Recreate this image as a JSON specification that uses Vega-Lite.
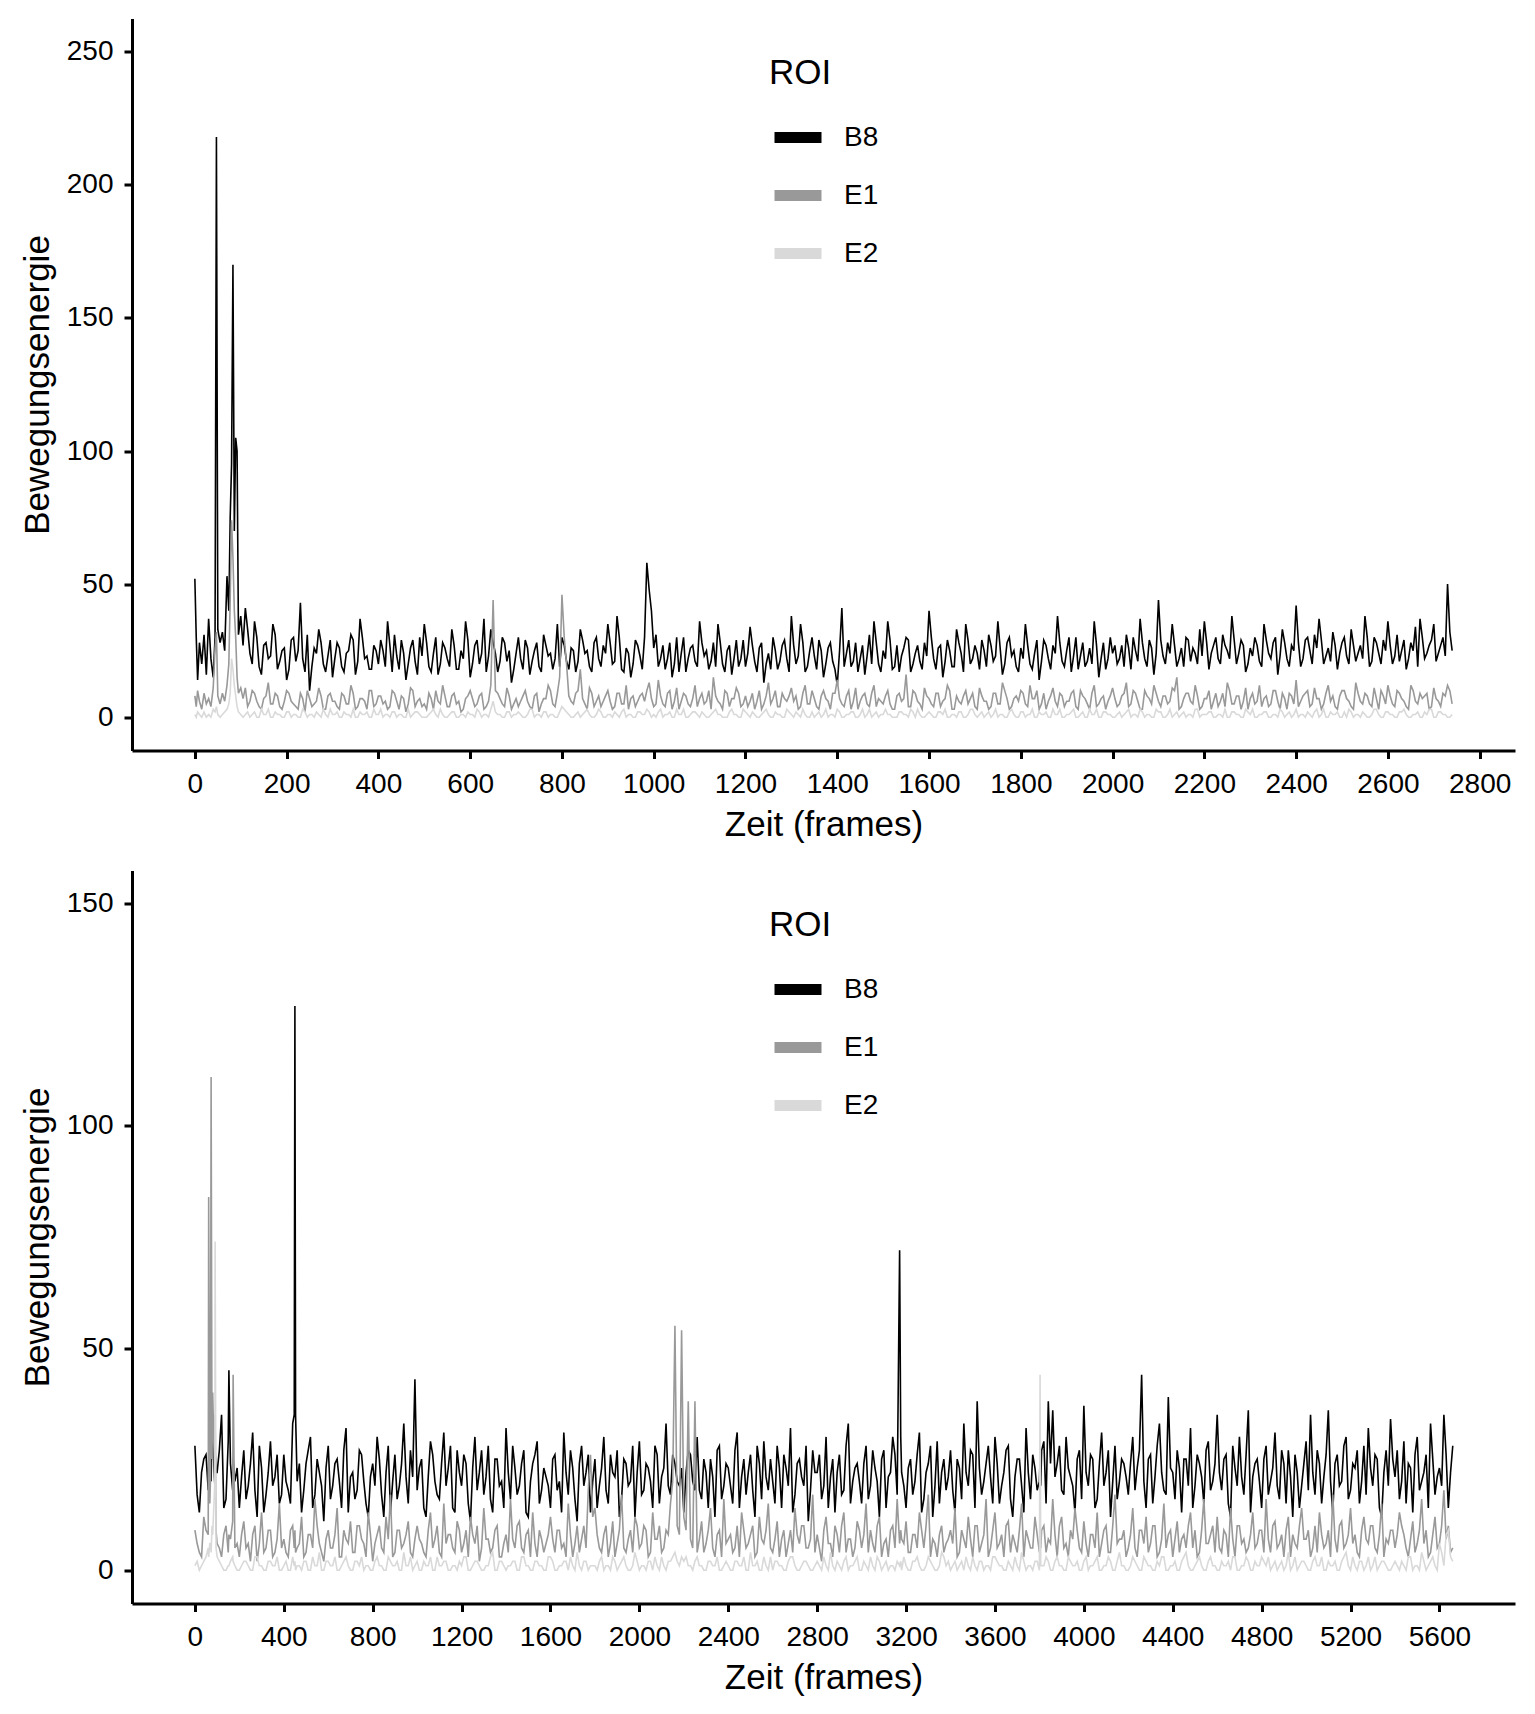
{
  "$schema": "https://vega.github.io/schema/vega-lite/v6.json",
  "padding": {"left": 20, "top": 18.5, "right": 15, "bottom": 0},
  "spacing": 28,
  "resolve": {"scale": {"color": "independent"}, "legend": {"color": "independent"}},
  "config": {
    "font": "Liberation Sans",
    "view": {"stroke": null},
    "axis": {"grid": false, "domainColor": "#000", "domainWidth": 3, "tickColor": "#000", "tickWidth": 3, "tickSize": 8, "labelColor": "#000", "labelFontSize": 28, "titleColor": "#000", "titleFontSize": 35, "titleFontWeight": "normal", "labelOverlap": false, "labelFlush": false},
    "axisX": {"labelPadding": 12, "titlePadding": 9},
    "axisY": {"labelPadding": 11, "titlePadding": 11},
    "legend": {"orient": "none", "legendX": 637, "legendY": 37, "padding": 0, "titleFontSize": 35, "titleFontWeight": "normal", "titleColor": "#000", "labelFontSize": 28, "labelColor": "#000", "symbolType": "stroke", "symbolStrokeWidth": 11, "symbolSize": 2209, "rowPadding": 7, "labelOffset": 17, "titlePadding": 18}
  },
  "datasets": {
    "top": [
      {"t":0,"B8":52,"E1":8,"E2":1},{"t":3,"B8":30,"E1":4,"E2":0},{"t":6,"B8":14,"E1":10,"E2":2},{"t":10,"B8":28,"E1":6,"E2":1},
      {"t":15,"B8":20,"E1":3,"E2":0},{"t":20,"B8":31,"E1":9,"E2":2},{"t":25,"B8":16,"E1":5,"E2":0},{"t":30,"B8":37,"E1":7,"E2":1},
      {"t":35,"B8":22,"E1":4,"E2":0},{"t":40,"B8":15,"E1":11,"E2":3},{"t":44,"B8":30,"E1":26,"E2":2},{"t":47,"B8":218,"E1":32,"E2":4},
      {"t":50,"B8":33,"E1":8,"E2":1},{"t":55,"B8":28,"E1":5,"E2":0},{"t":60,"B8":32,"E1":9,"E2":1},{"t":65,"B8":25,"E1":6,"E2":2},
      {"t":70,"B8":53,"E1":12,"E2":3},{"t":74,"B8":40,"E1":20,"E2":5},{"t":77,"B8":75,"E1":44,"E2":9},{"t":80,"B8":95,"E1":74,"E2":22},
      {"t":83,"B8":170,"E1":60,"E2":18},{"t":86,"B8":70,"E1":40,"E2":12},{"t":89,"B8":105,"E1":30,"E2":8},{"t":92,"B8":100,"E1":15,"E2":4},
      {"t":95,"B8":31,"E1":9,"E2":2},{"t":100,"B8":38,"E1":11,"E2":1},
      {"t":110,"B8":41,"E1":11,"E2":1},{"t":120,"B8":24,"E1":6,"E2":0},{"t":130,"B8":36,"E1":9,"E2":2},{"t":140,"B8":19,"E1":4,"E2":0},{"t":150,"B8":27,"E1":7,"E2":1},
      {"t":160,"B8":22,"E1":13,"E2":3},{"t":170,"B8":35,"E1":5,"E2":0},{"t":180,"B8":18,"E1":8,"E2":1},{"t":190,"B8":25,"E1":3,"E2":0},{"t":200,"B8":14,"E1":10,"E2":2},
      {"t":210,"B8":29,"E1":6,"E2":0},{"t":220,"B8":21,"E1":4,"E2":1},{"t":230,"B8":43,"E1":9,"E2":0},{"t":240,"B8":17,"E1":2,"E2":2},{"t":250,"B8":10,"E1":7,"E2":1},
      {"t":260,"B8":26,"E1":5,"E2":0},{"t":270,"B8":33,"E1":11,"E2":1},{"t":280,"B8":20,"E1":3,"E2":3},{"t":290,"B8":23,"E1":8,"E2":0},{"t":300,"B8":15,"E1":6,"E2":1},
      {"t":310,"B8":28,"E1":4,"E2":2},{"t":320,"B8":19,"E1":9,"E2":0},{"t":330,"B8":24,"E1":5,"E2":1},{"t":340,"B8":31,"E1":12,"E2":0},{"t":350,"B8":16,"E1":3,"E2":0},
      {"t":360,"B8":37,"E1":7,"E2":2},{"t":370,"B8":22,"E1":6,"E2":1},{"t":380,"B8":18,"E1":10,"E2":0},{"t":390,"B8":27,"E1":4,"E2":3},{"t":400,"B8":20,"E1":8,"E2":1},
      {"t":410,"B8":25,"E1":5,"E2":0},{"t":420,"B8":36,"E1":3,"E2":1},{"t":430,"B8":17,"E1":10,"E2":2},{"t":440,"B8":23,"E1":6,"E2":0},{"t":450,"B8":29,"E1":8,"E2":1},
      {"t":460,"B8":14,"E1":2,"E2":0},{"t":470,"B8":26,"E1":11,"E2":0},{"t":480,"B8":21,"E1":4,"E2":2},{"t":490,"B8":30,"E1":7,"E2":1},{"t":500,"B8":35,"E1":5,"E2":0},
      {"t":510,"B8":19,"E1":9,"E2":1},{"t":520,"B8":24,"E1":3,"E2":3},{"t":530,"B8":16,"E1":6,"E2":0},{"t":540,"B8":28,"E1":12,"E2":1},{"t":550,"B8":22,"E1":4,"E2":0},
      {"t":560,"B8":33,"E1":8,"E2":2},{"t":570,"B8":18,"E1":5,"E2":0},{"t":580,"B8":25,"E1":2,"E2":1},{"t":590,"B8":36,"E1":7,"E2":0},{"t":600,"B8":15,"E1":10,"E2":1},
      {"t":610,"B8":27,"E1":4,"E2":0},{"t":620,"B8":20,"E1":8,"E2":2},{"t":630,"B8":37,"E1":3,"E2":1},{"t":640,"B8":23,"E1":6,"E2":0},{"t":650,"B8":28,"E1":44,"E2":6},
      {"t":660,"B8":17,"E1":9,"E2":1},{"t":670,"B8":30,"E1":5,"E2":0},{"t":680,"B8":21,"E1":11,"E2":2},{"t":690,"B8":13,"E1":3,"E2":0},{"t":700,"B8":24,"E1":7,"E2":1},
      {"t":710,"B8":22,"E1":6,"E2":1},{"t":720,"B8":29,"E1":10,"E2":0},{"t":730,"B8":16,"E1":4,"E2":3},{"t":740,"B8":25,"E1":8,"E2":0},{"t":750,"B8":19,"E1":2,"E2":1},
      {"t":760,"B8":31,"E1":7,"E2":2},{"t":770,"B8":23,"E1":12,"E2":0},{"t":780,"B8":18,"E1":5,"E2":1},{"t":790,"B8":35,"E1":9,"E2":0},{"t":800,"B8":30,"E1":46,"E2":4},
      {"t":810,"B8":21,"E1":20,"E2":2},{"t":820,"B8":26,"E1":6,"E2":0},{"t":830,"B8":17,"E1":9,"E2":1},{"t":840,"B8":33,"E1":18,"E2":0},{"t":850,"B8":24,"E1":5,"E2":2},
      {"t":860,"B8":19,"E1":11,"E2":1},{"t":870,"B8":28,"E1":4,"E2":0},{"t":880,"B8":22,"E1":8,"E2":3},{"t":890,"B8":27,"E1":6,"E2":0},{"t":900,"B8":35,"E1":10,"E2":1},
      {"t":910,"B8":20,"E1":3,"E2":0},{"t":920,"B8":38,"E1":9,"E2":1},{"t":930,"B8":18,"E1":5,"E2":2},{"t":940,"B8":26,"E1":12,"E2":0},{"t":950,"B8":15,"E1":7,"E2":1},
      {"t":960,"B8":29,"E1":4,"E2":0},{"t":970,"B8":23,"E1":8,"E2":2},{"t":980,"B8":30,"E1":6,"E2":1},{"t":985,"B8":58,"E1":10,"E2":3},{"t":990,"B8":48,"E1":13,"E2":2},
      {"t":995,"B8":40,"E1":7,"E2":0},{"t":1000,"B8":26,"E1":4,"E2":1},
      {"t":1010,"B8":19,"E1":14,"E2":2},{"t":1020,"B8":27,"E1":5,"E2":0},{"t":1030,"B8":22,"E1":9,"E2":1},{"t":1040,"B8":15,"E1":3,"E2":0},{"t":1050,"B8":30,"E1":11,"E2":3},
      {"t":1060,"B8":24,"E1":6,"E2":1},{"t":1070,"B8":17,"E1":8,"E2":0},{"t":1080,"B8":26,"E1":4,"E2":1},{"t":1090,"B8":21,"E1":12,"E2":2},{"t":1100,"B8":36,"E1":7,"E2":0},
      {"t":1110,"B8":23,"E1":5,"E2":1},{"t":1120,"B8":18,"E1":10,"E2":0},{"t":1130,"B8":28,"E1":15,"E2":2},{"t":1140,"B8":35,"E1":6,"E2":1},{"t":1150,"B8":20,"E1":3,"E2":0},
      {"t":1160,"B8":25,"E1":9,"E2":0},{"t":1170,"B8":16,"E1":7,"E2":3},{"t":1180,"B8":29,"E1":11,"E2":1},{"t":1190,"B8":22,"E1":4,"E2":0},{"t":1200,"B8":19,"E1":8,"E2":2},
      {"t":1210,"B8":34,"E1":6,"E2":0},{"t":1220,"B8":21,"E1":3,"E2":1},{"t":1230,"B8":26,"E1":10,"E2":0},{"t":1240,"B8":13,"E1":5,"E2":2},{"t":1250,"B8":24,"E1":13,"E2":1},
      {"t":1260,"B8":30,"E1":7,"E2":0},{"t":1270,"B8":18,"E1":4,"E2":1},{"t":1280,"B8":27,"E1":9,"E2":0},{"t":1290,"B8":22,"E1":6,"E2":3},{"t":1300,"B8":38,"E1":11,"E2":1},
      {"t":1310,"B8":20,"E1":8,"E2":2},{"t":1320,"B8":35,"E1":4,"E2":0},{"t":1330,"B8":17,"E1":12,"E2":1},{"t":1340,"B8":25,"E1":5,"E2":0},{"t":1350,"B8":23,"E1":7,"E2":0},
      {"t":1360,"B8":29,"E1":3,"E2":2},{"t":1370,"B8":15,"E1":10,"E2":1},{"t":1380,"B8":26,"E1":6,"E2":0},{"t":1390,"B8":21,"E1":9,"E2":1},{"t":1400,"B8":12,"E1":14,"E2":3},
      {"t":1410,"B8":41,"E1":5,"E2":0},{"t":1420,"B8":24,"E1":8,"E2":1},{"t":1430,"B8":19,"E1":3,"E2":2},{"t":1440,"B8":28,"E1":11,"E2":0},{"t":1450,"B8":22,"E1":6,"E2":1},
      {"t":1460,"B8":16,"E1":9,"E2":0},{"t":1470,"B8":31,"E1":4,"E2":3},{"t":1480,"B8":36,"E1":12,"E2":1},{"t":1490,"B8":20,"E1":7,"E2":0},{"t":1500,"B8":25,"E1":5,"E2":1},
      {"t":1510,"B8":36,"E1":10,"E2":1},{"t":1520,"B8":18,"E1":3,"E2":0},{"t":1530,"B8":27,"E1":8,"E2":0},{"t":1540,"B8":23,"E1":6,"E2":2},{"t":1550,"B8":30,"E1":16,"E2":1},
      {"t":1560,"B8":17,"E1":4,"E2":3},{"t":1570,"B8":24,"E1":9,"E2":0},{"t":1580,"B8":21,"E1":5,"E2":1},{"t":1590,"B8":28,"E1":11,"E2":0},{"t":1600,"B8":40,"E1":7,"E2":2},
      {"t":1610,"B8":22,"E1":4,"E2":0},{"t":1620,"B8":26,"E1":9,"E2":2},{"t":1630,"B8":15,"E1":6,"E2":1},{"t":1640,"B8":29,"E1":12,"E2":0},{"t":1650,"B8":19,"E1":3,"E2":1},
      {"t":1660,"B8":33,"E1":8,"E2":0},{"t":1670,"B8":24,"E1":5,"E2":2},{"t":1680,"B8":35,"E1":10,"E2":0},{"t":1690,"B8":20,"E1":7,"E2":3},{"t":1700,"B8":27,"E1":4,"E2":1},
      {"t":1710,"B8":18,"E1":11,"E2":1},{"t":1720,"B8":25,"E1":6,"E2":0},{"t":1730,"B8":31,"E1":3,"E2":2},{"t":1740,"B8":21,"E1":9,"E2":1},{"t":1750,"B8":36,"E1":5,"E2":0},
      {"t":1760,"B8":16,"E1":13,"E2":1},{"t":1770,"B8":28,"E1":7,"E2":0},{"t":1780,"B8":23,"E1":4,"E2":3},{"t":1790,"B8":19,"E1":8,"E2":0},{"t":1800,"B8":26,"E1":10,"E2":2},
      {"t":1810,"B8":35,"E1":5,"E2":0},{"t":1820,"B8":20,"E1":12,"E2":1},{"t":1830,"B8":24,"E1":7,"E2":0},{"t":1840,"B8":14,"E1":3,"E2":2},{"t":1850,"B8":29,"E1":9,"E2":1},
      {"t":1860,"B8":22,"E1":6,"E2":0},{"t":1870,"B8":27,"E1":11,"E2":3},{"t":1880,"B8":38,"E1":4,"E2":1},{"t":1890,"B8":21,"E1":8,"E2":0},{"t":1900,"B8":25,"E1":6,"E2":1},
      {"t":1910,"B8":17,"E1":9,"E2":2},{"t":1920,"B8":30,"E1":4,"E2":0},{"t":1930,"B8":23,"E1":10,"E2":1},{"t":1940,"B8":19,"E1":7,"E2":0},{"t":1950,"B8":26,"E1":3,"E2":3},
      {"t":1960,"B8":36,"E1":12,"E2":1},{"t":1970,"B8":15,"E1":5,"E2":0},{"t":1980,"B8":28,"E1":8,"E2":2},{"t":1990,"B8":22,"E1":6,"E2":1},{"t":2000,"B8":24,"E1":11,"E2":0},
      {"t":2010,"B8":20,"E1":4,"E2":1},{"t":2020,"B8":27,"E1":8,"E2":0},{"t":2030,"B8":31,"E1":13,"E2":2},{"t":2040,"B8":18,"E1":5,"E2":0},{"t":2050,"B8":25,"E1":9,"E2":1},
      {"t":2060,"B8":37,"E1":3,"E2":3},{"t":2070,"B8":22,"E1":10,"E2":0},{"t":2080,"B8":29,"E1":7,"E2":1},{"t":2090,"B8":16,"E1":12,"E2":0},{"t":2100,"B8":44,"E1":6,"E2":2},
      {"t":2110,"B8":23,"E1":8,"E2":0},{"t":2120,"B8":28,"E1":5,"E2":1},{"t":2130,"B8":35,"E1":11,"E2":0},{"t":2140,"B8":19,"E1":15,"E2":2},{"t":2150,"B8":26,"E1":4,"E2":1},
      {"t":2160,"B8":30,"E1":9,"E2":0},{"t":2170,"B8":21,"E1":6,"E2":1},{"t":2180,"B8":24,"E1":12,"E2":3},{"t":2190,"B8":33,"E1":3,"E2":0},{"t":2200,"B8":36,"E1":7,"E2":1},
      {"t":2210,"B8":18,"E1":10,"E2":2},{"t":2220,"B8":27,"E1":6,"E2":0},{"t":2230,"B8":22,"E1":4,"E2":1},{"t":2240,"B8":31,"E1":9,"E2":0},{"t":2250,"B8":25,"E1":13,"E2":0},
      {"t":2260,"B8":38,"E1":5,"E2":2},{"t":2270,"B8":20,"E1":8,"E2":1},{"t":2280,"B8":29,"E1":3,"E2":0},{"t":2290,"B8":17,"E1":11,"E2":3},{"t":2300,"B8":26,"E1":7,"E2":1},
      {"t":2310,"B8":30,"E1":5,"E2":0},{"t":2320,"B8":21,"E1":12,"E2":1},{"t":2330,"B8":35,"E1":7,"E2":2},{"t":2340,"B8":24,"E1":4,"E2":0},{"t":2350,"B8":28,"E1":10,"E2":1},
      {"t":2360,"B8":16,"E1":6,"E2":0},{"t":2370,"B8":33,"E1":9,"E2":2},{"t":2380,"B8":22,"E1":3,"E2":1},{"t":2390,"B8":27,"E1":8,"E2":0},{"t":2400,"B8":42,"E1":14,"E2":3},
      {"t":2410,"B8":19,"E1":6,"E2":1},{"t":2420,"B8":29,"E1":9,"E2":0},{"t":2430,"B8":25,"E1":4,"E2":1},{"t":2440,"B8":31,"E1":11,"E2":2},{"t":2450,"B8":37,"E1":7,"E2":0},
      {"t":2460,"B8":20,"E1":5,"E2":3},{"t":2470,"B8":26,"E1":12,"E2":0},{"t":2480,"B8":32,"E1":8,"E2":1},{"t":2490,"B8":18,"E1":3,"E2":2},{"t":2500,"B8":28,"E1":10,"E2":0},
      {"t":2510,"B8":23,"E1":7,"E2":0},{"t":2520,"B8":33,"E1":4,"E2":2},{"t":2530,"B8":21,"E1":13,"E2":1},{"t":2540,"B8":27,"E1":6,"E2":0},{"t":2550,"B8":38,"E1":9,"E2":1},
      {"t":2560,"B8":19,"E1":5,"E2":0},{"t":2570,"B8":30,"E1":11,"E2":3},{"t":2580,"B8":24,"E1":3,"E2":1},{"t":2590,"B8":29,"E1":8,"E2":0},{"t":2600,"B8":36,"E1":12,"E2":2},
      {"t":2610,"B8":20,"E1":5,"E2":1},{"t":2620,"B8":31,"E1":10,"E2":0},{"t":2630,"B8":25,"E1":7,"E2":2},{"t":2640,"B8":18,"E1":4,"E2":1},{"t":2650,"B8":28,"E1":12,"E2":0},
      {"t":2660,"B8":34,"E1":6,"E2":1},{"t":2670,"B8":37,"E1":9,"E2":0},{"t":2680,"B8":22,"E1":8,"E2":2},{"t":2690,"B8":27,"E1":3,"E2":3},{"t":2700,"B8":35,"E1":11,"E2":0},
      {"t":2710,"B8":24,"E1":6,"E2":2},{"t":2720,"B8":30,"E1":9,"E2":1},{"t":2730,"B8":50,"E1":12,"E2":0},{"t":2740,"B8":25,"E1":5,"E2":1},
      {"t":105,"B8":27,"E1":7,"E2":0},{"t":115,"B8":33,"E1":4,"E2":2},{"t":125,"B8":20,"E1":10,"E2":1},{"t":135,"B8":30,"E1":6,"E2":0},{"t":145,"B8":16,"E1":3,"E2":3},
      {"t":155,"B8":28,"E1":8,"E2":1},{"t":165,"B8":23,"E1":5,"E2":0},{"t":175,"B8":31,"E1":9,"E2":2},{"t":185,"B8":21,"E1":4,"E2":1},{"t":195,"B8":26,"E1":6,"E2":0},
      {"t":205,"B8":18,"E1":9,"E2":2},{"t":215,"B8":30,"E1":5,"E2":1},{"t":225,"B8":25,"E1":3,"E2":0},{"t":235,"B8":22,"E1":7,"E2":3},{"t":245,"B8":31,"E1":10,"E2":0},
      {"t":255,"B8":19,"E1":4,"E2":1},{"t":265,"B8":24,"E1":6,"E2":2},{"t":275,"B8":28,"E1":8,"E2":0},{"t":285,"B8":17,"E1":3,"E2":1},{"t":295,"B8":29,"E1":9,"E2":3},
      {"t":305,"B8":22,"E1":6,"E2":1},{"t":315,"B8":26,"E1":3,"E2":0},{"t":325,"B8":17,"E1":8,"E2":2},{"t":335,"B8":25,"E1":5,"E2":1},{"t":345,"B8":29,"E1":9,"E2":3},
      {"t":355,"B8":21,"E1":4,"E2":0},{"t":365,"B8":30,"E1":7,"E2":1},{"t":375,"B8":23,"E1":3,"E2":2},{"t":385,"B8":18,"E1":10,"E2":0},{"t":395,"B8":25,"E1":5,"E2":1},
      {"t":405,"B8":29,"E1":8,"E2":3},{"t":415,"B8":19,"E1":6,"E2":1},{"t":425,"B8":27,"E1":4,"E2":0},{"t":435,"B8":31,"E1":9,"E2":2},{"t":445,"B8":18,"E1":3,"E2":1},
      {"t":455,"B8":24,"E1":7,"E2":0},{"t":465,"B8":20,"E1":5,"E2":3},{"t":475,"B8":29,"E1":10,"E2":1},{"t":485,"B8":16,"E1":6,"E2":2},{"t":495,"B8":23,"E1":4,"E2":0},
      {"t":505,"B8":28,"E1":3,"E2":0},{"t":515,"B8":17,"E1":7,"E2":2},{"t":525,"B8":30,"E1":10,"E2":1},{"t":535,"B8":20,"E1":5,"E2":3},{"t":545,"B8":26,"E1":8,"E2":0},
      {"t":555,"B8":19,"E1":4,"E2":1},{"t":565,"B8":27,"E1":9,"E2":2},{"t":575,"B8":18,"E1":6,"E2":0},{"t":585,"B8":22,"E1":3,"E2":1},{"t":595,"B8":29,"E1":8,"E2":2},
      {"t":605,"B8":20,"E1":7,"E2":1},{"t":615,"B8":29,"E1":5,"E2":3},{"t":625,"B8":24,"E1":9,"E2":0},{"t":635,"B8":17,"E1":4,"E2":1},{"t":645,"B8":33,"E1":12,"E2":3},
      {"t":655,"B8":24,"E1":10,"E2":2},{"t":665,"B8":21,"E1":7,"E2":1},{"t":675,"B8":28,"E1":4,"E2":0},{"t":685,"B8":25,"E1":8,"E2":2},{"t":695,"B8":18,"E1":5,"E2":1},
      {"t":705,"B8":30,"E1":4,"E2":2},{"t":715,"B8":18,"E1":8,"E2":0},{"t":725,"B8":26,"E1":6,"E2":1},{"t":735,"B8":21,"E1":3,"E2":3},{"t":745,"B8":28,"E1":9,"E2":1},
      {"t":755,"B8":17,"E1":5,"E2":0},{"t":765,"B8":27,"E1":7,"E2":2},{"t":775,"B8":24,"E1":10,"E2":1},{"t":785,"B8":22,"E1":4,"E2":0},{"t":795,"B8":19,"E1":15,"E2":2},
      {"t":805,"B8":27,"E1":30,"E2":3},{"t":815,"B8":18,"E1":8,"E2":1},{"t":825,"B8":25,"E1":5,"E2":0},{"t":835,"B8":21,"E1":10,"E2":2},{"t":845,"B8":29,"E1":7,"E2":1},
      {"t":855,"B8":25,"E1":3,"E2":3},{"t":865,"B8":17,"E1":9,"E2":0},{"t":875,"B8":30,"E1":6,"E2":1},{"t":885,"B8":19,"E1":4,"E2":2},{"t":895,"B8":24,"E1":8,"E2":0},
      {"t":905,"B8":28,"E1":6,"E2":1},{"t":915,"B8":21,"E1":4,"E2":2},{"t":925,"B8":30,"E1":9,"E2":0},{"t":935,"B8":17,"E1":5,"E2":3},{"t":945,"B8":24,"E1":3,"E2":1},
      {"t":955,"B8":20,"E1":8,"E2":0},{"t":965,"B8":27,"E1":6,"E2":2},{"t":975,"B8":18,"E1":9,"E2":1},
      {"t":1005,"B8":31,"E1":5,"E2":0},{"t":1015,"B8":22,"E1":8,"E2":3},{"t":1025,"B8":18,"E1":4,"E2":1},{"t":1035,"B8":28,"E1":10,"E2":2},{"t":1045,"B8":20,"E1":6,"E2":0},
      {"t":1055,"B8":17,"E1":3,"E2":1},{"t":1065,"B8":30,"E1":9,"E2":3},{"t":1075,"B8":22,"E1":5,"E2":0},{"t":1085,"B8":27,"E1":7,"E2":2},{"t":1095,"B8":19,"E1":4,"E2":1},
      {"t":1105,"B8":28,"E1":9,"E2":2},{"t":1115,"B8":25,"E1":6,"E2":0},{"t":1125,"B8":21,"E1":3,"E2":1},{"t":1135,"B8":19,"E1":8,"E2":3},{"t":1145,"B8":28,"E1":5,"E2":1},
      {"t":1155,"B8":17,"E1":10,"E2":0},{"t":1165,"B8":27,"E1":4,"E2":2},{"t":1175,"B8":22,"E1":7,"E2":1},{"t":1185,"B8":19,"E1":9,"E2":0},{"t":1195,"B8":29,"E1":5,"E2":3},
      {"t":1205,"B8":24,"E1":4,"E2":1},{"t":1215,"B8":27,"E1":9,"E2":2},{"t":1225,"B8":17,"E1":6,"E2":0},{"t":1235,"B8":28,"E1":3,"E2":1},{"t":1245,"B8":20,"E1":8,"E2":3},
      {"t":1255,"B8":18,"E1":5,"E2":0},{"t":1265,"B8":25,"E1":10,"E2":2},{"t":1275,"B8":21,"E1":4,"E2":1},{"t":1285,"B8":29,"E1":7,"E2":0},{"t":1295,"B8":17,"E1":8,"E2":2},
      {"t":1305,"B8":27,"E1":6,"E2":0},{"t":1315,"B8":23,"E1":3,"E2":1},{"t":1325,"B8":28,"E1":9,"E2":3},{"t":1335,"B8":19,"E1":5,"E2":0},{"t":1345,"B8":30,"E1":10,"E2":2},
      {"t":1355,"B8":18,"E1":4,"E2":1},{"t":1365,"B8":25,"E1":8,"E2":0},{"t":1375,"B8":20,"E1":7,"E2":3},{"t":1385,"B8":28,"E1":3,"E2":1},{"t":1395,"B8":18,"E1":9,"E2":0},
      {"t":1405,"B8":25,"E1":7,"E2":2},{"t":1415,"B8":19,"E1":4,"E2":0},{"t":1425,"B8":29,"E1":10,"E2":1},{"t":1435,"B8":21,"E1":6,"E2":2},{"t":1445,"B8":17,"E1":3,"E2":0},
      {"t":1455,"B8":27,"E1":8,"E2":3},{"t":1465,"B8":23,"E1":5,"E2":1},{"t":1475,"B8":20,"E1":9,"E2":0},{"t":1485,"B8":28,"E1":4,"E2":2},{"t":1495,"B8":17,"E1":6,"E2":1},
      {"t":1505,"B8":22,"E1":8,"E2":3},{"t":1515,"B8":29,"E1":5,"E2":1},{"t":1525,"B8":19,"E1":3,"E2":0},{"t":1535,"B8":17,"E1":9,"E2":2},{"t":1545,"B8":26,"E1":7,"E2":1},
      {"t":1555,"B8":29,"E1":4,"E2":0},{"t":1565,"B8":20,"E1":10,"E2":2},{"t":1575,"B8":27,"E1":6,"E2":3},{"t":1585,"B8":18,"E1":3,"E2":0},{"t":1595,"B8":23,"E1":8,"E2":1},
      {"t":1605,"B8":30,"E1":5,"E2":1},{"t":1615,"B8":18,"E1":9,"E2":0},{"t":1625,"B8":27,"E1":4,"E2":2},{"t":1635,"B8":21,"E1":7,"E2":3},{"t":1645,"B8":25,"E1":10,"E2":0},
      {"t":1655,"B8":19,"E1":3,"E2":1},{"t":1665,"B8":28,"E1":6,"E2":2},{"t":1675,"B8":17,"E1":8,"E2":0},{"t":1685,"B8":29,"E1":5,"E2":1},{"t":1695,"B8":22,"E1":9,"E2":3},
      {"t":1705,"B8":24,"E1":3,"E2":0},{"t":1715,"B8":29,"E1":8,"E2":2},{"t":1725,"B8":19,"E1":6,"E2":1},{"t":1735,"B8":27,"E1":4,"E2":0},{"t":1745,"B8":23,"E1":9,"E2":3},
      {"t":1755,"B8":26,"E1":5,"E2":1},{"t":1765,"B8":20,"E1":10,"E2":0},{"t":1775,"B8":30,"E1":3,"E2":2},{"t":1785,"B8":25,"E1":7,"E2":1},{"t":1795,"B8":17,"E1":6,"E2":0},
      {"t":1805,"B8":22,"E1":9,"E2":2},{"t":1815,"B8":27,"E1":4,"E2":1},{"t":1825,"B8":18,"E1":7,"E2":3},{"t":1835,"B8":29,"E1":10,"E2":0},{"t":1845,"B8":21,"E1":5,"E2":1},
      {"t":1855,"B8":27,"E1":3,"E2":2},{"t":1865,"B8":18,"E1":8,"E2":0},{"t":1875,"B8":24,"E1":6,"E2":1},{"t":1885,"B8":28,"E1":9,"E2":3},{"t":1895,"B8":19,"E1":4,"E2":0},
      {"t":1905,"B8":30,"E1":6,"E2":1},{"t":1915,"B8":23,"E1":10,"E2":3},{"t":1925,"B8":18,"E1":3,"E2":0},{"t":1935,"B8":28,"E1":8,"E2":2},{"t":1945,"B8":21,"E1":5,"E2":0},
      {"t":1955,"B8":20,"E1":9,"E2":1},{"t":1965,"B8":27,"E1":4,"E2":3},{"t":1975,"B8":22,"E1":7,"E2":0},{"t":1985,"B8":18,"E1":3,"E2":2},{"t":1995,"B8":30,"E1":8,"E2":1},
      {"t":2005,"B8":27,"E1":7,"E2":0},{"t":2015,"B8":22,"E1":5,"E2":2},{"t":2025,"B8":19,"E1":9,"E2":1},{"t":2035,"B8":26,"E1":4,"E2":3},{"t":2045,"B8":30,"E1":10,"E2":1},
      {"t":2055,"B8":21,"E1":6,"E2":0},{"t":2065,"B8":28,"E1":3,"E2":2},{"t":2075,"B8":19,"E1":8,"E2":1},{"t":2085,"B8":26,"E1":5,"E2":0},{"t":2095,"B8":24,"E1":9,"E2":3},
      {"t":2105,"B8":29,"E1":4,"E2":2},{"t":2115,"B8":20,"E1":8,"E2":0},{"t":2125,"B8":24,"E1":6,"E2":3},{"t":2135,"B8":27,"E1":10,"E2":1},{"t":2145,"B8":22,"E1":3,"E2":0},
      {"t":2155,"B8":19,"E1":7,"E2":2},{"t":2165,"B8":29,"E1":9,"E2":1},{"t":2175,"B8":26,"E1":5,"E2":0},{"t":2185,"B8":20,"E1":8,"E2":3},{"t":2195,"B8":23,"E1":4,"E2":1},
      {"t":2205,"B8":28,"E1":7,"E2":1},{"t":2215,"B8":24,"E1":3,"E2":2},{"t":2225,"B8":30,"E1":9,"E2":0},{"t":2235,"B8":20,"E1":6,"E2":1},{"t":2245,"B8":27,"E1":4,"E2":3},
      {"t":2255,"B8":22,"E1":10,"E2":0},{"t":2265,"B8":29,"E1":5,"E2":2},{"t":2275,"B8":24,"E1":8,"E2":1},{"t":2285,"B8":27,"E1":6,"E2":0},{"t":2295,"B8":20,"E1":3,"E2":2},
      {"t":2305,"B8":23,"E1":9,"E2":3},{"t":2315,"B8":27,"E1":6,"E2":0},{"t":2325,"B8":19,"E1":4,"E2":1},{"t":2335,"B8":29,"E1":8,"E2":2},{"t":2345,"B8":22,"E1":5,"E2":0},
      {"t":2355,"B8":30,"E1":10,"E2":1},{"t":2365,"B8":23,"E1":3,"E2":3},{"t":2375,"B8":28,"E1":7,"E2":0},{"t":2385,"B8":19,"E1":9,"E2":2},{"t":2395,"B8":25,"E1":5,"E2":1},
      {"t":2405,"B8":28,"E1":4,"E2":0},{"t":2415,"B8":22,"E1":8,"E2":1},{"t":2425,"B8":30,"E1":10,"E2":2},{"t":2435,"B8":20,"E1":5,"E2":0},{"t":2445,"B8":26,"E1":7,"E2":3},
      {"t":2455,"B8":29,"E1":3,"E2":1},{"t":2465,"B8":23,"E1":9,"E2":0},{"t":2475,"B8":21,"E1":6,"E2":2},{"t":2485,"B8":27,"E1":4,"E2":1},{"t":2495,"B8":24,"E1":8,"E2":0},
      {"t":2505,"B8":30,"E1":10,"E2":2},{"t":2515,"B8":20,"E1":6,"E2":3},{"t":2525,"B8":27,"E1":3,"E2":0},{"t":2535,"B8":24,"E1":9,"E2":1},{"t":2545,"B8":22,"E1":5,"E2":2},
      {"t":2555,"B8":30,"E1":8,"E2":0},{"t":2565,"B8":21,"E1":4,"E2":1},{"t":2575,"B8":28,"E1":7,"E2":3},{"t":2585,"B8":20,"E1":10,"E2":0},{"t":2595,"B8":25,"E1":5,"E2":2},
      {"t":2605,"B8":27,"E1":8,"E2":1},{"t":2615,"B8":23,"E1":4,"E2":0},{"t":2625,"B8":21,"E1":9,"E2":2},{"t":2635,"B8":29,"E1":6,"E2":3},{"t":2645,"B8":22,"E1":3,"E2":0},
      {"t":2655,"B8":25,"E1":10,"E2":1},{"t":2665,"B8":19,"E1":5,"E2":2},{"t":2675,"B8":30,"E1":7,"E2":0},{"t":2685,"B8":24,"E1":9,"E2":1},{"t":2695,"B8":29,"E1":4,"E2":3},
      {"t":2705,"B8":21,"E1":7,"E2":0},{"t":2715,"B8":27,"E1":4,"E2":2},{"t":2725,"B8":23,"E1":8,"E2":1},{"t":2735,"B8":32,"E1":10,"E2":0}
    ],
    "bottom": [
      {"t":0,"B8":28,"E1":9,"E2":1},{"t":20,"B8":13,"E1":4,"E2":0},{"t":40,"B8":25,"E1":12,"E2":2},{"t":60,"B8":18,"E1":8,"E2":5},{"t":80,"B8":30,"E1":40,"E2":8},
      {"t":100,"B8":22,"E1":6,"E2":3},{"t":120,"B8":35,"E1":3,"E2":1},{"t":140,"B8":16,"E1":10,"E2":0},{"t":160,"B8":24,"E1":7,"E2":2},{"t":180,"B8":20,"E1":5,"E2":1},
      {"t":200,"B8":14,"E1":3,"E2":0},{"t":220,"B8":27,"E1":11,"E2":2},{"t":240,"B8":19,"E1":6,"E2":1},{"t":260,"B8":31,"E1":8,"E2":0},{"t":280,"B8":12,"E1":2,"E2":3},
      {"t":300,"B8":23,"E1":13,"E2":1},{"t":320,"B8":17,"E1":5,"E2":0},{"t":340,"B8":29,"E1":9,"E2":2},{"t":360,"B8":21,"E1":4,"E2":1},{"t":380,"B8":15,"E1":15,"E2":0},
      {"t":400,"B8":26,"E1":7,"E2":1},{"t":420,"B8":18,"E1":3,"E2":0},{"t":440,"B8":33,"E1":10,"E2":3},{"t":460,"B8":20,"E1":5,"E2":1},{"t":480,"B8":13,"E1":12,"E2":0},
      {"t":500,"B8":24,"E1":4,"E2":2},{"t":520,"B8":30,"E1":8,"E2":0},{"t":540,"B8":17,"E1":16,"E2":1},{"t":560,"B8":22,"E1":6,"E2":4},{"t":580,"B8":11,"E1":2,"E2":0},
      {"t":600,"B8":28,"E1":9,"E2":2},{"t":620,"B8":19,"E1":5,"E2":1},{"t":640,"B8":25,"E1":14,"E2":0},{"t":660,"B8":14,"E1":3,"E2":1},{"t":680,"B8":32,"E1":7,"E2":3},
      {"t":700,"B8":21,"E1":11,"E2":0},{"t":720,"B8":16,"E1":4,"E2":2},{"t":740,"B8":27,"E1":10,"E2":1},{"t":760,"B8":20,"E1":6,"E2":0},{"t":780,"B8":12,"E1":13,"E2":1},
      {"t":800,"B8":24,"E1":2,"E2":0},{"t":820,"B8":30,"E1":8,"E2":3},{"t":840,"B8":17,"E1":5,"E2":1},{"t":860,"B8":22,"E1":12,"E2":0},{"t":880,"B8":13,"E1":17,"E2":2},
      {"t":900,"B8":26,"E1":4,"E2":1},{"t":920,"B8":19,"E1":9,"E2":0},{"t":940,"B8":33,"E1":6,"E2":4},{"t":960,"B8":15,"E1":11,"E2":1},{"t":980,"B8":21,"E1":3,"E2":0},
      {"t":1000,"B8":18,"E1":10,"E2":2},{"t":1020,"B8":25,"E1":6,"E2":0},{"t":1040,"B8":12,"E1":3,"E2":1},{"t":1060,"B8":29,"E1":13,"E2":3},{"t":1080,"B8":20,"E1":7,"E2":0},
      {"t":1100,"B8":16,"E1":4,"E2":1},{"t":1120,"B8":31,"E1":15,"E2":2},{"t":1140,"B8":23,"E1":8,"E2":0},{"t":1160,"B8":14,"E1":5,"E2":1},{"t":1180,"B8":27,"E1":11,"E2":0},
      {"t":1200,"B8":19,"E1":4,"E2":1},{"t":1220,"B8":24,"E1":9,"E2":3},{"t":1240,"B8":11,"E1":12,"E2":0},{"t":1260,"B8":30,"E1":6,"E2":2},{"t":1280,"B8":22,"E1":2,"E2":1},
      {"t":1300,"B8":17,"E1":14,"E2":0},{"t":1320,"B8":28,"E1":7,"E2":1},{"t":1340,"B8":13,"E1":5,"E2":4},{"t":1360,"B8":25,"E1":10,"E2":0},{"t":1380,"B8":20,"E1":3,"E2":2},
      {"t":1400,"B8":32,"E1":8,"E2":0},{"t":1420,"B8":16,"E1":16,"E2":1},{"t":1440,"B8":23,"E1":5,"E2":2},{"t":1460,"B8":19,"E1":11,"E2":0},{"t":1480,"B8":27,"E1":4,"E2":3},
      {"t":1500,"B8":12,"E1":9,"E2":1},{"t":1520,"B8":24,"E1":13,"E2":0},{"t":1540,"B8":29,"E1":3,"E2":2},{"t":1560,"B8":18,"E1":7,"E2":1},{"t":1580,"B8":21,"E1":6,"E2":0},
      {"t":1600,"B8":14,"E1":12,"E2":3},{"t":1620,"B8":26,"E1":4,"E2":0},{"t":1640,"B8":20,"E1":9,"E2":1},{"t":1660,"B8":31,"E1":6,"E2":2},{"t":1680,"B8":17,"E1":15,"E2":0},
      {"t":1700,"B8":23,"E1":3,"E2":1},{"t":1720,"B8":11,"E1":10,"E2":4},{"t":1740,"B8":28,"E1":7,"E2":0},{"t":1760,"B8":22,"E1":5,"E2":2},{"t":1780,"B8":13,"E1":26,"E2":1},
      {"t":1800,"B8":25,"E1":14,"E2":1},{"t":1820,"B8":19,"E1":5,"E2":2},{"t":1840,"B8":30,"E1":8,"E2":0},{"t":1860,"B8":15,"E1":3,"E2":1},{"t":1880,"B8":22,"E1":11,"E2":3},
      {"t":1900,"B8":27,"E1":6,"E2":0},{"t":1920,"B8":16,"E1":17,"E2":2},{"t":1940,"B8":24,"E1":4,"E2":1},{"t":1960,"B8":20,"E1":9,"E2":0},{"t":1980,"B8":12,"E1":12,"E2":4},
      {"t":2000,"B8":29,"E1":5,"E2":0},{"t":2020,"B8":18,"E1":10,"E2":1},{"t":2040,"B8":23,"E1":3,"E2":2},{"t":2060,"B8":14,"E1":13,"E2":0},{"t":2080,"B8":26,"E1":7,"E2":1},
      {"t":2100,"B8":21,"E1":4,"E2":3},{"t":2120,"B8":33,"E1":9,"E2":0},{"t":2140,"B8":17,"E1":15,"E2":2},{"t":2160,"B8":24,"E1":55,"E2":4},{"t":2180,"B8":19,"E1":8,"E2":1},
      {"t":2200,"B8":13,"E1":12,"E2":2},{"t":2220,"B8":27,"E1":38,"E2":1},{"t":2240,"B8":20,"E1":5,"E2":0},{"t":2260,"B8":30,"E1":4,"E2":3},{"t":2280,"B8":16,"E1":11,"E2":1},
      {"t":2300,"B8":22,"E1":6,"E2":0},{"t":2320,"B8":25,"E1":14,"E2":2},{"t":2340,"B8":12,"E1":3,"E2":1},{"t":2360,"B8":28,"E1":9,"E2":0},{"t":2380,"B8":19,"E1":16,"E2":1},
      {"t":2400,"B8":23,"E1":7,"E2":1},{"t":2420,"B8":15,"E1":4,"E2":0},{"t":2440,"B8":31,"E1":10,"E2":2},{"t":2460,"B8":21,"E1":13,"E2":1},{"t":2480,"B8":17,"E1":5,"E2":0},
      {"t":2500,"B8":26,"E1":8,"E2":4},{"t":2520,"B8":12,"E1":3,"E2":1},{"t":2540,"B8":24,"E1":12,"E2":0},{"t":2560,"B8":29,"E1":6,"E2":3},{"t":2580,"B8":18,"E1":15,"E2":0},
      {"t":2600,"B8":20,"E1":4,"E2":0},{"t":2620,"B8":28,"E1":11,"E2":2},{"t":2640,"B8":14,"E1":7,"E2":1},{"t":2660,"B8":23,"E1":3,"E2":0},{"t":2680,"B8":32,"E1":9,"E2":3},
      {"t":2700,"B8":17,"E1":14,"E2":1},{"t":2720,"B8":25,"E1":6,"E2":0},{"t":2740,"B8":19,"E1":10,"E2":2},{"t":2760,"B8":11,"E1":5,"E2":1},{"t":2780,"B8":27,"E1":17,"E2":0},
      {"t":2800,"B8":22,"E1":8,"E2":2},{"t":2820,"B8":16,"E1":2,"E2":0},{"t":2840,"B8":30,"E1":12,"E2":1},{"t":2860,"B8":21,"E1":6,"E2":4},{"t":2880,"B8":13,"E1":10,"E2":0},
      {"t":2900,"B8":26,"E1":4,"E2":1},{"t":2920,"B8":18,"E1":13,"E2":2},{"t":2940,"B8":33,"E1":7,"E2":0},{"t":2960,"B8":20,"E1":3,"E2":1},{"t":2980,"B8":24,"E1":11,"E2":3},
      {"t":3000,"B8":15,"E1":5,"E2":0},{"t":3020,"B8":28,"E1":15,"E2":1},{"t":3040,"B8":19,"E1":9,"E2":3},{"t":3060,"B8":23,"E1":4,"E2":0},{"t":3080,"B8":12,"E1":12,"E2":2},
      {"t":3100,"B8":27,"E1":6,"E2":1},{"t":3120,"B8":21,"E1":3,"E2":0},{"t":3140,"B8":30,"E1":10,"E2":1},{"t":3160,"B8":17,"E1":16,"E2":2},{"t":3180,"B8":22,"E1":7,"E2":0},
      {"t":3200,"B8":14,"E1":11,"E2":1},{"t":3220,"B8":25,"E1":4,"E2":0},{"t":3240,"B8":20,"E1":8,"E2":2},{"t":3260,"B8":31,"E1":13,"E2":1},{"t":3280,"B8":16,"E1":5,"E2":0},
      {"t":3300,"B8":24,"E1":17,"E2":3},{"t":3320,"B8":12,"E1":7,"E2":1},{"t":3340,"B8":29,"E1":3,"E2":0},{"t":3360,"B8":22,"E1":10,"E2":4},{"t":3380,"B8":18,"E1":6,"E2":1},
      {"t":3400,"B8":27,"E1":9,"E2":0},{"t":3420,"B8":13,"E1":14,"E2":2},{"t":3440,"B8":23,"E1":4,"E2":1},{"t":3460,"B8":33,"E1":7,"E2":0},{"t":3480,"B8":19,"E1":12,"E2":1},
      {"t":3500,"B8":26,"E1":3,"E2":3},{"t":3520,"B8":38,"E1":10,"E2":0},{"t":3540,"B8":17,"E1":6,"E2":2},{"t":3560,"B8":24,"E1":16,"E2":1},{"t":3580,"B8":21,"E1":5,"E2":0},
      {"t":3600,"B8":30,"E1":13,"E2":3},{"t":3620,"B8":15,"E1":6,"E2":1},{"t":3640,"B8":22,"E1":3,"E2":0},{"t":3660,"B8":28,"E1":11,"E2":2},{"t":3680,"B8":12,"E1":8,"E2":0},
      {"t":3700,"B8":25,"E1":4,"E2":1},{"t":3720,"B8":19,"E1":15,"E2":4},{"t":3740,"B8":32,"E1":9,"E2":0},{"t":3760,"B8":16,"E1":5,"E2":1},{"t":3780,"B8":23,"E1":12,"E2":2},
      {"t":3800,"B8":20,"E1":4,"E2":0},{"t":3820,"B8":29,"E1":10,"E2":1},{"t":3840,"B8":38,"E1":7,"E2":2},{"t":3860,"B8":36,"E1":16,"E2":0},{"t":3880,"B8":24,"E1":3,"E2":3},
      {"t":3900,"B8":18,"E1":12,"E2":1},{"t":3920,"B8":30,"E1":6,"E2":0},{"t":3940,"B8":21,"E1":9,"E2":2},{"t":3960,"B8":13,"E1":14,"E2":1},{"t":3980,"B8":27,"E1":5,"E2":0},
      {"t":4000,"B8":37,"E1":11,"E2":2},{"t":4020,"B8":19,"E1":3,"E2":0},{"t":4040,"B8":25,"E1":8,"E2":1},{"t":4060,"B8":16,"E1":13,"E2":3},{"t":4080,"B8":31,"E1":6,"E2":0},
      {"t":4100,"B8":22,"E1":10,"E2":1},{"t":4120,"B8":12,"E1":4,"E2":2},{"t":4140,"B8":28,"E1":17,"E2":0},{"t":4160,"B8":20,"E1":7,"E2":4},{"t":4180,"B8":24,"E1":9,"E2":1},
      {"t":4200,"B8":17,"E1":5,"E2":0},{"t":4220,"B8":30,"E1":14,"E2":3},{"t":4240,"B8":23,"E1":3,"E2":1},{"t":4260,"B8":44,"E1":9,"E2":0},{"t":4280,"B8":14,"E1":12,"E2":2},
      {"t":4300,"B8":26,"E1":6,"E2":1},{"t":4320,"B8":21,"E1":10,"E2":0},{"t":4340,"B8":33,"E1":4,"E2":1},{"t":4360,"B8":18,"E1":15,"E2":3},{"t":4380,"B8":39,"E1":8,"E2":0},
      {"t":4400,"B8":22,"E1":3,"E2":1},{"t":4420,"B8":27,"E1":11,"E2":0},{"t":4440,"B8":13,"E1":7,"E2":2},{"t":4460,"B8":25,"E1":5,"E2":4},{"t":4480,"B8":32,"E1":13,"E2":0},
      {"t":4500,"B8":19,"E1":9,"E2":1},{"t":4520,"B8":24,"E1":4,"E2":3},{"t":4540,"B8":15,"E1":16,"E2":0},{"t":4560,"B8":29,"E1":6,"E2":2},{"t":4580,"B8":20,"E1":10,"E2":1},
      {"t":4600,"B8":35,"E1":12,"E2":0},{"t":4620,"B8":18,"E1":4,"E2":2},{"t":4640,"B8":26,"E1":8,"E2":1},{"t":4660,"B8":12,"E1":14,"E2":0},{"t":4680,"B8":23,"E1":3,"E2":3},
      {"t":4700,"B8":30,"E1":10,"E2":0},{"t":4720,"B8":17,"E1":7,"E2":1},{"t":4740,"B8":36,"E1":5,"E2":2},{"t":4760,"B8":21,"E1":13,"E2":0},{"t":4780,"B8":25,"E1":6,"E2":1},
      {"t":4800,"B8":14,"E1":9,"E2":3},{"t":4820,"B8":28,"E1":16,"E2":1},{"t":4840,"B8":20,"E1":4,"E2":0},{"t":4860,"B8":31,"E1":11,"E2":2},{"t":4880,"B8":16,"E1":6,"E2":1},
      {"t":4900,"B8":24,"E1":3,"E2":0},{"t":4920,"B8":27,"E1":12,"E2":4},{"t":4940,"B8":12,"E1":8,"E2":1},{"t":4960,"B8":22,"E1":5,"E2":0},{"t":4980,"B8":19,"E1":14,"E2":2},
      {"t":5000,"B8":29,"E1":7,"E2":1},{"t":5020,"B8":35,"E1":3,"E2":0},{"t":5040,"B8":17,"E1":10,"E2":3},{"t":5060,"B8":24,"E1":13,"E2":1},{"t":5080,"B8":21,"E1":5,"E2":0},
      {"t":5100,"B8":36,"E1":9,"E2":2},{"t":5120,"B8":13,"E1":17,"E2":1},{"t":5140,"B8":26,"E1":4,"E2":0},{"t":5160,"B8":20,"E1":11,"E2":2},{"t":5180,"B8":30,"E1":6,"E2":4},
      {"t":5200,"B8":18,"E1":14,"E2":0},{"t":5220,"B8":23,"E1":8,"E2":1},{"t":5240,"B8":15,"E1":3,"E2":2},{"t":5260,"B8":28,"E1":12,"E2":0},{"t":5280,"B8":32,"E1":6,"E2":3},
      {"t":5300,"B8":19,"E1":10,"E2":1},{"t":5320,"B8":25,"E1":4,"E2":0},{"t":5340,"B8":12,"E1":15,"E2":2},{"t":5360,"B8":27,"E1":7,"E2":1},{"t":5380,"B8":34,"E1":9,"E2":0},
      {"t":5400,"B8":21,"E1":5,"E2":2},{"t":5420,"B8":16,"E1":13,"E2":0},{"t":5440,"B8":29,"E1":8,"E2":1},{"t":5460,"B8":24,"E1":3,"E2":3},{"t":5480,"B8":13,"E1":11,"E2":0},
      {"t":5500,"B8":30,"E1":6,"E2":1},{"t":5520,"B8":20,"E1":16,"E2":4},{"t":5540,"B8":26,"E1":9,"E2":0},{"t":5560,"B8":33,"E1":4,"E2":2},{"t":5580,"B8":17,"E1":12,"E2":1},
      {"t":5600,"B8":23,"E1":6,"E2":6},{"t":5620,"B8":35,"E1":18,"E2":1},{"t":5640,"B8":14,"E1":10,"E2":9},{"t":5660,"B8":28,"E1":5,"E2":2},
      {"t":62,"B8":24,"E1":84,"E2":3},{"t":67,"B8":31,"E1":15,"E2":6},{"t":73,"B8":20,"E1":111,"E2":4},{"t":77,"B8":33,"E1":25,"E2":10},
      {"t":91,"B8":27,"E1":35,"E2":74},{"t":95,"B8":22,"E1":9,"E2":5},{"t":153,"B8":45,"E1":8,"E2":1},{"t":172,"B8":25,"E1":44,"E2":2},
      {"t":447,"B8":35,"E1":5,"E2":1},{"t":450,"B8":127,"E1":9,"E2":2},{"t":453,"B8":35,"E1":4,"E2":0},{"t":990,"B8":43,"E1":7,"E2":1},
      {"t":2170,"B8":20,"E1":10,"E2":2},{"t":2190,"B8":23,"E1":54,"E2":3},{"t":2230,"B8":26,"E1":7,"E2":1},{"t":2250,"B8":18,"E1":38,"E2":2},
      {"t":3171,"B8":72,"E1":6,"E2":1},{"t":3176,"B8":30,"E1":9,"E2":2},{"t":3803,"B8":25,"E1":8,"E2":44},{"t":3806,"B8":19,"E1":5,"E2":1},
      {"t":10,"B8":17,"E1":6,"E2":2},{"t":30,"B8":22,"E1":3,"E2":1},{"t":50,"B8":26,"E1":9,"E2":3},{"t":70,"B8":21,"E1":20,"E2":6},{"t":90,"B8":19,"E1":18,"E2":20},
      {"t":110,"B8":27,"E1":5,"E2":2},{"t":130,"B8":14,"E1":8,"E2":0},{"t":150,"B8":29,"E1":4,"E2":1},{"t":170,"B8":18,"E1":11,"E2":3},{"t":190,"B8":23,"E1":6,"E2":0},
      {"t":210,"B8":21,"E1":8,"E2":1},{"t":230,"B8":16,"E1":5,"E2":2},{"t":250,"B8":24,"E1":2,"E2":0},{"t":270,"B8":18,"E1":10,"E2":3},{"t":290,"B8":28,"E1":6,"E2":1},
      {"t":310,"B8":13,"E1":4,"E2":0},{"t":330,"B8":22,"E1":9,"E2":2},{"t":350,"B8":19,"E1":3,"E2":1},{"t":370,"B8":26,"E1":7,"E2":3},{"t":390,"B8":17,"E1":5,"E2":0},
      {"t":410,"B8":20,"E1":4,"E2":2},{"t":430,"B8":15,"E1":9,"E2":0},{"t":470,"B8":24,"E1":6,"E2":1},{"t":490,"B8":18,"E1":3,"E2":2},{"t":510,"B8":27,"E1":8,"E2":0},
      {"t":530,"B8":14,"E1":5,"E2":3},{"t":550,"B8":25,"E1":10,"E2":1},{"t":570,"B8":19,"E1":4,"E2":0},{"t":590,"B8":23,"E1":7,"E2":2},
      {"t":610,"B8":16,"E1":5,"E2":1},{"t":630,"B8":24,"E1":8,"E2":3},{"t":650,"B8":20,"E1":3,"E2":0},{"t":670,"B8":27,"E1":9,"E2":2},{"t":690,"B8":13,"E1":6,"E2":1},
      {"t":710,"B8":22,"E1":4,"E2":0},{"t":730,"B8":18,"E1":10,"E2":2},{"t":750,"B8":26,"E1":7,"E2":3},{"t":770,"B8":15,"E1":3,"E2":1},{"t":790,"B8":21,"E1":8,"E2":0},
      {"t":810,"B8":19,"E1":6,"E2":2},{"t":830,"B8":25,"E1":10,"E2":1},{"t":850,"B8":12,"E1":4,"E2":0},{"t":870,"B8":28,"E1":7,"E2":3},{"t":890,"B8":20,"E1":3,"E2":1},
      {"t":910,"B8":16,"E1":9,"E2":2},{"t":930,"B8":24,"E1":5,"E2":0},{"t":950,"B8":21,"E1":8,"E2":1},{"t":970,"B8":27,"E1":4,"E2":3},
      {"t":1010,"B8":23,"E1":7,"E2":0},{"t":1030,"B8":14,"E1":4,"E2":2},{"t":1050,"B8":21,"E1":9,"E2":1},{"t":1070,"B8":26,"E1":5,"E2":0},{"t":1090,"B8":17,"E1":10,"E2":3},
      {"t":1110,"B8":24,"E1":3,"E2":1},{"t":1130,"B8":19,"E1":6,"E2":2},{"t":1150,"B8":28,"E1":8,"E2":0},{"t":1170,"B8":13,"E1":4,"E2":1},{"t":1190,"B8":22,"E1":9,"E2":2},
      {"t":1210,"B8":26,"E1":6,"E2":3},{"t":1230,"B8":15,"E1":3,"E2":0},{"t":1250,"B8":23,"E1":8,"E2":1},{"t":1270,"B8":18,"E1":10,"E2":2},{"t":1290,"B8":27,"E1":5,"E2":0},
      {"t":1310,"B8":21,"E1":7,"E2":1},{"t":1330,"B8":16,"E1":4,"E2":3},{"t":1350,"B8":25,"E1":9,"E2":0},{"t":1370,"B8":19,"E1":3,"E2":2},{"t":1390,"B8":14,"E1":6,"E2":1},
      {"t":1410,"B8":22,"E1":4,"E2":1},{"t":1430,"B8":28,"E1":7,"E2":2},{"t":1450,"B8":17,"E1":10,"E2":0},{"t":1470,"B8":24,"E1":5,"E2":3},{"t":1490,"B8":13,"E1":8,"E2":1},
      {"t":1510,"B8":20,"E1":3,"E2":0},{"t":1530,"B8":26,"E1":6,"E2":2},{"t":1550,"B8":15,"E1":9,"E2":1},{"t":1570,"B8":23,"E1":4,"E2":0},{"t":1590,"B8":19,"E1":8,"E2":3},
      {"t":1610,"B8":25,"E1":7,"E2":2},{"t":1630,"B8":18,"E1":9,"E2":0},{"t":1650,"B8":13,"E1":5,"E2":1},{"t":1670,"B8":22,"E1":3,"E2":2},{"t":1690,"B8":27,"E1":8,"E2":3},
      {"t":1710,"B8":16,"E1":6,"E2":0},{"t":1730,"B8":24,"E1":4,"E2":1},{"t":1750,"B8":19,"E1":10,"E2":2},{"t":1770,"B8":26,"E1":18,"E2":0},{"t":1790,"B8":20,"E1":12,"E2":1},
      {"t":1810,"B8":14,"E1":8,"E2":0},{"t":1830,"B8":23,"E1":4,"E2":3},{"t":1850,"B8":18,"E1":10,"E2":1},{"t":1870,"B8":26,"E1":6,"E2":0},{"t":1890,"B8":21,"E1":3,"E2":2},
      {"t":1910,"B8":12,"E1":9,"E2":1},{"t":1930,"B8":25,"E1":5,"E2":3},{"t":1950,"B8":19,"E1":7,"E2":0},{"t":1970,"B8":28,"E1":4,"E2":1},{"t":1990,"B8":22,"E1":10,"E2":2},
      {"t":2010,"B8":17,"E1":6,"E2":1},{"t":2030,"B8":24,"E1":9,"E2":0},{"t":2050,"B8":20,"E1":4,"E2":2},{"t":2070,"B8":28,"E1":7,"E2":3},{"t":2090,"B8":15,"E1":10,"E2":0},
      {"t":2110,"B8":23,"E1":5,"E2":1},{"t":2130,"B8":19,"E1":8,"E2":2},{"t":2150,"B8":26,"E1":20,"E2":3},
      {"t":2210,"B8":22,"E1":9,"E2":3},{"t":2270,"B8":18,"E1":7,"E2":1},{"t":2290,"B8":25,"E1":4,"E2":0},{"t":2310,"B8":14,"E1":9,"E2":2},{"t":2330,"B8":21,"E1":5,"E2":1},
      {"t":2350,"B8":27,"E1":8,"E2":3},{"t":2370,"B8":16,"E1":3,"E2":0},{"t":2390,"B8":24,"E1":6,"E2":2},
      {"t":2410,"B8":19,"E1":8,"E2":0},{"t":2430,"B8":27,"E1":5,"E2":2},{"t":2450,"B8":14,"E1":3,"E2":1},{"t":2470,"B8":25,"E1":9,"E2":3},{"t":2490,"B8":22,"E1":6,"E2":0},
      {"t":2510,"B8":18,"E1":10,"E2":1},{"t":2530,"B8":28,"E1":4,"E2":2},{"t":2550,"B8":16,"E1":7,"E2":0},{"t":2570,"B8":21,"E1":9,"E2":1},{"t":2590,"B8":25,"E1":5,"E2":3},
      {"t":2610,"B8":15,"E1":7,"E2":2},{"t":2630,"B8":23,"E1":3,"E2":1},{"t":2650,"B8":26,"E1":9,"E2":0},{"t":2670,"B8":19,"E1":6,"E2":2},{"t":2690,"B8":13,"E1":4,"E2":3},
      {"t":2710,"B8":24,"E1":8,"E2":0},{"t":2730,"B8":21,"E1":10,"E2":1},{"t":2750,"B8":28,"E1":5,"E2":2},{"t":2770,"B8":18,"E1":7,"E2":0},{"t":2790,"B8":22,"E1":4,"E2":1},
      {"t":2810,"B8":26,"E1":5,"E2":1},{"t":2830,"B8":19,"E1":9,"E2":3},{"t":2850,"B8":14,"E1":6,"E2":0},{"t":2870,"B8":25,"E1":3,"E2":1},{"t":2890,"B8":22,"E1":8,"E2":2},
      {"t":2910,"B8":17,"E1":10,"E2":0},{"t":2930,"B8":28,"E1":4,"E2":3},{"t":2950,"B8":15,"E1":7,"E2":1},{"t":2970,"B8":23,"E1":5,"E2":2},{"t":2990,"B8":20,"E1":9,"E2":0},
      {"t":3010,"B8":24,"E1":8,"E2":2},{"t":3030,"B8":16,"E1":4,"E2":0},{"t":3050,"B8":27,"E1":6,"E2":1},{"t":3070,"B8":20,"E1":10,"E2":3},{"t":3090,"B8":25,"E1":3,"E2":0},
      {"t":3110,"B8":14,"E1":7,"E2":2},{"t":3130,"B8":22,"E1":9,"E2":1},{"t":3150,"B8":26,"E1":5,"E2":0},{"t":3190,"B8":19,"E1":6,"E2":3},
      {"t":3210,"B8":23,"E1":4,"E2":0},{"t":3230,"B8":17,"E1":8,"E2":2},{"t":3250,"B8":26,"E1":5,"E2":3},{"t":3270,"B8":13,"E1":9,"E2":0},{"t":3290,"B8":22,"E1":10,"E2":1},
      {"t":3310,"B8":28,"E1":3,"E2":2},{"t":3330,"B8":19,"E1":6,"E2":0},{"t":3350,"B8":15,"E1":8,"E2":1},{"t":3370,"B8":25,"E1":4,"E2":3},{"t":3390,"B8":21,"E1":7,"E2":2},
      {"t":3410,"B8":18,"E1":6,"E2":1},{"t":3430,"B8":25,"E1":3,"E2":0},{"t":3450,"B8":16,"E1":9,"E2":2},{"t":3470,"B8":22,"E1":5,"E2":3},{"t":3490,"B8":27,"E1":7,"E2":0},
      {"t":3510,"B8":14,"E1":10,"E2":1},{"t":3530,"B8":23,"E1":4,"E2":2},{"t":3550,"B8":20,"E1":8,"E2":0},{"t":3570,"B8":28,"E1":3,"E2":1},{"t":3590,"B8":15,"E1":9,"E2":3},
      {"t":3610,"B8":24,"E1":5,"E2":2},{"t":3630,"B8":19,"E1":8,"E2":1},{"t":3650,"B8":27,"E1":10,"E2":0},{"t":3670,"B8":16,"E1":4,"E2":1},{"t":3690,"B8":21,"E1":6,"E2":3},
      {"t":3710,"B8":25,"E1":9,"E2":0},{"t":3730,"B8":13,"E1":3,"E2":2},{"t":3750,"B8":22,"E1":7,"E2":1},{"t":3770,"B8":26,"E1":5,"E2":0},{"t":3790,"B8":18,"E1":8,"E2":2},
      {"t":3810,"B8":27,"E1":9,"E2":1},{"t":3830,"B8":15,"E1":4,"E2":3},{"t":3850,"B8":24,"E1":6,"E2":0},{"t":3870,"B8":21,"E1":8,"E2":2},{"t":3890,"B8":28,"E1":10,"E2":1},
      {"t":3910,"B8":17,"E1":5,"E2":0},{"t":3930,"B8":23,"E1":3,"E2":3},{"t":3950,"B8":19,"E1":7,"E2":1},{"t":3970,"B8":25,"E1":9,"E2":2},{"t":3990,"B8":16,"E1":4,"E2":0},
      {"t":4010,"B8":22,"E1":6,"E2":3},{"t":4030,"B8":26,"E1":8,"E2":1},{"t":4050,"B8":14,"E1":5,"E2":2},{"t":4070,"B8":24,"E1":3,"E2":0},{"t":4090,"B8":19,"E1":9,"E2":1},
      {"t":4110,"B8":27,"E1":4,"E2":3},{"t":4130,"B8":20,"E1":10,"E2":0},{"t":4150,"B8":16,"E1":6,"E2":2},{"t":4170,"B8":25,"E1":7,"E2":1},{"t":4190,"B8":21,"E1":3,"E2":0},
      {"t":4210,"B8":24,"E1":8,"E2":1},{"t":4230,"B8":18,"E1":5,"E2":2},{"t":4250,"B8":27,"E1":9,"E2":0},{"t":4270,"B8":20,"E1":6,"E2":3},{"t":4290,"B8":25,"E1":4,"E2":1},
      {"t":4310,"B8":15,"E1":10,"E2":0},{"t":4330,"B8":28,"E1":3,"E2":2},{"t":4350,"B8":22,"E1":7,"E2":3},{"t":4370,"B8":17,"E1":5,"E2":0},{"t":4390,"B8":23,"E1":9,"E2":1},
      {"t":4410,"B8":16,"E1":7,"E2":2},{"t":4430,"B8":23,"E1":4,"E2":0},{"t":4450,"B8":25,"E1":8,"E2":3},{"t":4470,"B8":19,"E1":10,"E2":1},{"t":4490,"B8":14,"E1":5,"E2":0},
      {"t":4510,"B8":26,"E1":3,"E2":2},{"t":4530,"B8":21,"E1":9,"E2":1},{"t":4550,"B8":27,"E1":6,"E2":0},{"t":4570,"B8":18,"E1":8,"E2":3},{"t":4590,"B8":24,"E1":4,"E2":1},
      {"t":4610,"B8":22,"E1":5,"E2":0},{"t":4630,"B8":25,"E1":9,"E2":1},{"t":4650,"B8":15,"E1":3,"E2":2},{"t":4670,"B8":28,"E1":7,"E2":3},{"t":4690,"B8":19,"E1":10,"E2":0},
      {"t":4710,"B8":21,"E1":6,"E2":1},{"t":4730,"B8":26,"E1":4,"E2":3},{"t":4750,"B8":13,"E1":8,"E2":0},{"t":4770,"B8":24,"E1":5,"E2":2},{"t":4790,"B8":20,"E1":9,"E2":1},
      {"t":4810,"B8":25,"E1":4,"E2":2},{"t":4830,"B8":17,"E1":7,"E2":3},{"t":4850,"B8":23,"E1":10,"E2":1},{"t":4870,"B8":19,"E1":5,"E2":0},{"t":4890,"B8":27,"E1":8,"E2":2},
      {"t":4910,"B8":15,"E1":9,"E2":1},{"t":4930,"B8":21,"E1":3,"E2":0},{"t":4950,"B8":26,"E1":6,"E2":3},{"t":4970,"B8":14,"E1":10,"E2":1},{"t":4990,"B8":24,"E1":7,"E2":2},
      {"t":5010,"B8":18,"E1":9,"E2":0},{"t":5030,"B8":22,"E1":5,"E2":2},{"t":5050,"B8":27,"E1":4,"E2":1},{"t":5070,"B8":15,"E1":8,"E2":3},{"t":5090,"B8":26,"E1":6,"E2":0},
      {"t":5110,"B8":20,"E1":3,"E2":1},{"t":5130,"B8":24,"E1":7,"E2":2},{"t":5150,"B8":19,"E1":10,"E2":0},{"t":5170,"B8":28,"E1":5,"E2":3},{"t":5190,"B8":16,"E1":8,"E2":1},
      {"t":5210,"B8":24,"E1":6,"E2":3},{"t":5230,"B8":27,"E1":4,"E2":0},{"t":5250,"B8":20,"E1":9,"E2":2},{"t":5270,"B8":17,"E1":7,"E2":1},{"t":5290,"B8":23,"E1":10,"E2":0},
      {"t":5310,"B8":26,"E1":5,"E2":3},{"t":5330,"B8":14,"E1":8,"E2":1},{"t":5350,"B8":22,"E1":3,"E2":2},{"t":5370,"B8":19,"E1":6,"E2":0},{"t":5390,"B8":25,"E1":9,"E2":1},
      {"t":5410,"B8":27,"E1":8,"E2":1},{"t":5430,"B8":20,"E1":10,"E2":2},{"t":5450,"B8":15,"E1":5,"E2":0},{"t":5470,"B8":23,"E1":7,"E2":3},{"t":5490,"B8":26,"E1":4,"E2":1},
      {"t":5510,"B8":18,"E1":9,"E2":0},{"t":5530,"B8":22,"E1":6,"E2":2},{"t":5550,"B8":14,"E1":3,"E2":1},{"t":5570,"B8":25,"E1":8,"E2":3},{"t":5590,"B8":21,"E1":5,"E2":0},
      {"t":5610,"B8":19,"E1":10,"E2":4},{"t":5630,"B8":26,"E1":7,"E2":8},{"t":5650,"B8":22,"E1":4,"E2":3}
    ]
  },
  "vconcat": [
    {
      "width": 1383,
      "height": 732,
      "data": {"name": "top"},
      "transform": [{"fold": ["B8", "E1", "E2"], "as": ["ROI", "value"]}],
      "mark": {"type": "line", "strokeWidth": 1.6, "clip": true},
      "encoding": {
        "x": {"field": "t", "type": "quantitative", "title": "Zeit (frames)",
          "scale": {"domain": [-137, 2877], "nice": false, "zero": false},
          "axis": {"values": [0, 200, 400, 600, 800, 1000, 1200, 1400, 1600, 1800, 2000, 2200, 2400, 2600, 2800], "format": "d"}},
        "y": {"field": "value", "type": "quantitative", "title": "Bewegungsenergie",
          "scale": {"domain": [-12.5, 262.5], "nice": false, "zero": false},
          "axis": {"values": [0, 50, 100, 150, 200, 250], "format": "d"}},
        "color": {"field": "ROI", "type": "nominal", "title": "ROI",
          "scale": {"domain": ["B8", "E1", "E2"], "range": ["#000000", "#999999", "#d9d9d9"]},
          "legend": {"encode": {"symbols": {"update": {"strokeWidth": {"value": 11}}}}}}
      }
    },
    {
      "width": 1383,
      "height": 733,
      "data": {"name": "bottom"},
      "transform": [{"fold": ["B8", "E1", "E2"], "as": ["ROI", "value"]}],
      "mark": {"type": "line", "strokeWidth": 1.6, "clip": true},
      "encoding": {
        "x": {"field": "t", "type": "quantitative", "title": "Zeit (frames)",
          "scale": {"domain": [-283, 5940], "nice": false, "zero": false},
          "axis": {"values": [0, 400, 800, 1200, 1600, 2000, 2400, 2800, 3200, 3600, 4000, 4400, 4800, 5200, 5600], "format": "d"}},
        "y": {"field": "value", "type": "quantitative", "title": "Bewegungsenergie",
          "scale": {"domain": [-7.5, 157.5], "nice": false, "zero": false},
          "axis": {"values": [0, 50, 100, 150], "format": "d"}},
        "color": {"field": "ROI", "type": "nominal", "title": "ROI",
          "scale": {"domain": ["B8", "E1", "E2"], "range": ["#000000", "#999999", "#d9d9d9"]},
          "legend": {"encode": {"symbols": {"update": {"strokeWidth": {"value": 11}}}}}}
      }
    }
  ]
}
